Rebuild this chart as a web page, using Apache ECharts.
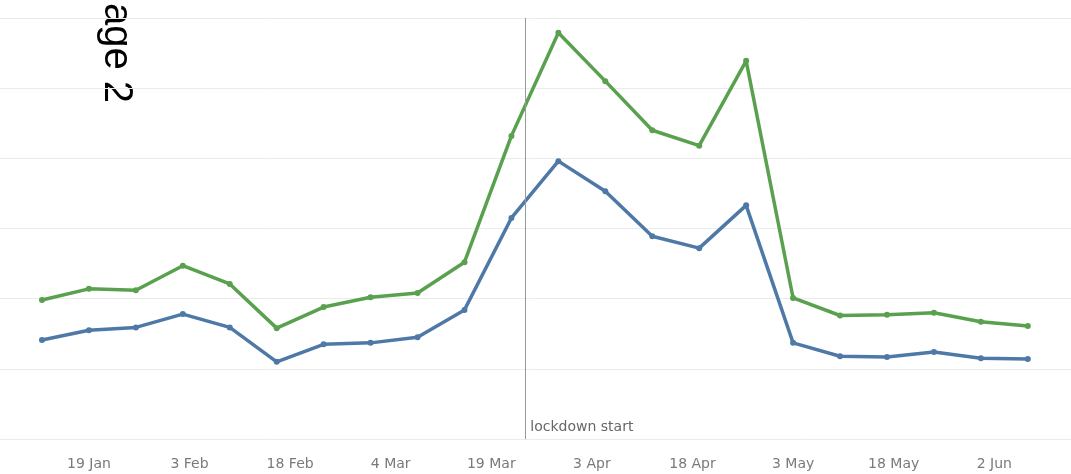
<!DOCTYPE html>
<html>
<head>
<meta charset="utf-8">
<script src="https://cdn.jsdelivr.net/npm/echarts@6/dist/echarts.min.js"></script>
<style>
	html,body{margin:0;padding:0;background:#fff;}
	#main{width:1071px;height:474px;}
</style>
</head>
<body>
<div id="main"></div>
<script>
	// weekly points, 2020
	var weeks = [
		'2020-01-12','2020-01-19','2020-01-26','2020-02-02','2020-02-09','2020-02-16',
		'2020-02-23','2020-03-01','2020-03-08','2020-03-15','2020-03-22','2020-03-29',
		'2020-04-05','2020-04-12','2020-04-19','2020-04-26','2020-05-03','2020-05-10',
		'2020-05-17','2020-05-24','2020-05-31','2020-06-07'
	];
	var greenValues = [1.98,2.14,2.12,2.47,2.21,1.58,1.88,2.02,2.08,2.52,4.32,5.79,
		5.10,4.40,4.18,5.39,2.01,1.76,1.77,1.80,1.67,1.61];
	var blueValues = [1.41,1.55,1.59,1.78,1.59,1.10,1.35,1.37,1.45,1.84,3.15,3.96,
		3.53,2.89,2.72,3.33,1.37,1.18,1.17,1.24,1.15,1.14];
	var tickDates = ['2020-01-19','2020-02-03','2020-02-18','2020-03-04','2020-03-19',
		'2020-04-03','2020-04-18','2020-05-03','2020-05-18','2020-06-02'];
	var monthNames = ['Jan','Feb','Mar','Apr','May','Jun','Jul','Aug','Sep','Oct','Nov','Dec'];
	var lockdownDate = '2020-03-24';
	var lockdownText = 'lockdown start';

	// day number counted from 1 Jan 2020 (= 0)
	var DAY = 86400000;
	var BASE = Date.UTC(2020,0,1);
	function toDay(s){
		var p = s.split('-');
		return Math.round((Date.UTC(+p[0], +p[1]-1, +p[2]) - BASE)/DAY);
	}
	function dayLabel(v){
		var d = new Date(BASE + Math.round(v)*DAY);
		return d.getUTCDate()+' '+monthNames[d.getUTCMonth()];
	}
	var xMin = toDay(weeks[0]) - 6.26;
	var xMax = xMin + 159.7;

	var greenData = [], blueData = [];
	for(var i in weeks){
		greenData.push([toDay(weeks[i]), greenValues[i]]);
		blueData.push([toDay(weeks[i]), blueValues[i]]);
	}
	var tickValues = tickDates.map(toDay);

	var chart = echarts.init(document.getElementById('main'));
	var option = {
		animation:false,
		backgroundColor:'#fff',
		grid:{
			left:0,
			right:0,
			top:18,
			bottom:35
		},
		xAxis:{
			type:'value',
			min:xMin,
			max:xMax,
			axisLine:{show:false},
			axisTick:{show:false},
			splitLine:{show:false},
			axisLabel:{
				customValues:tickValues,
				color:'#7a7a7a',
				fontFamily:'DejaVu Sans',
				fontSize:14,
				margin:18,
				formatter:dayLabel
			}
		},
		yAxis:{
			type:'value',
			min:0,
			max:6,
			interval:1,
			axisLine:{show:false},
			axisTick:{show:false},
			axisLabel:{show:false},
			splitLine:{lineStyle:{color:'#ebebeb',width:1}}
		},
		series:[
			{
				name:'green',
				type:'line',
				data:greenData,
				symbol:'circle',
				symbolSize:6,
				color:'#59a14f',
				lineStyle:{width:3.5}
			},
			{
				name:'blue',
				type:'line',
				data:blueData,
				symbol:'circle',
				symbolSize:6,
				color:'#4e79a7',
				lineStyle:{width:3.5},
				markLine:{
					silent:true,
					symbol:'none',
					label:{show:false},
					lineStyle:{color:'#999',width:1,type:'solid'},
					data:[{xAxis:toDay(lockdownDate)}]
				},
				markPoint:{
					silent:true,
					symbol:'circle',
					symbolSize:1,
					itemStyle:{color:'rgba(0,0,0,0)'},
					label:{
						show:true,
						position:'right',
						offset:[0,-12],
						color:'#666',
						fontFamily:'DejaVu Sans',
						fontSize:14,
						formatter:lockdownText
					},
					data:[{coord:[toDay(lockdownDate),0]}]
				}
			}
		],
		graphic:[
			{
				type:'text',
				left:96,
				top:3,
				rotation:-Math.PI/2,
				style:{
					text:'age 2',
					fill:'#000',
					font:'40px "Liberation Sans", Arial, sans-serif'
				}
			}
		]
	};
	chart.setOption(option);
</script>
</body>
</html>
